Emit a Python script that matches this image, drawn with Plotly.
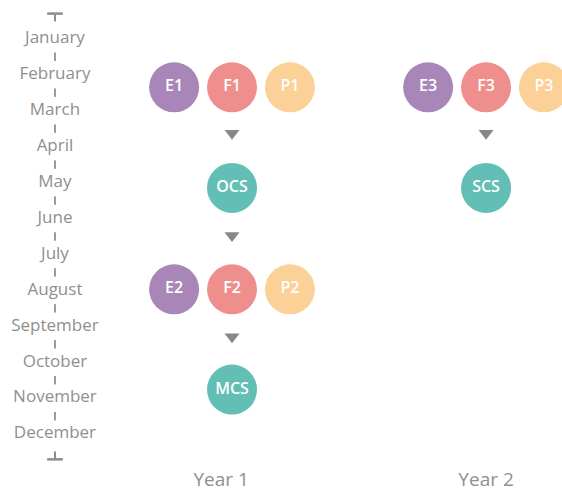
import plotly.graph_objects as go

months = ["January", "February", "March", "April", "May", "June", "July",
          "August", "September", "October", "November", "December"]
years = ["Year 1", "Year 2"]
year_label_pos = [0.957, 2.0]

# assessment nodes: label, year index (1/2), column offset (-1,0,1), month position
node_labels = ["E1", "F1", "P1", "OCS", "E2", "F2", "P2", "MCS", "E3", "F3", "P3", "SCS"]
node_year = [1, 1, 1, 1, 1, 1, 1, 1, 2, 2, 2, 2]
node_col = [-1, 0, 1, 0, -1, 0, 1, 0, -1, 0, 1, 0]
node_month = [2.35, 2.35, 2.35, 5.15, 7.97, 7.97, 7.97, 10.76, 2.35, 2.35, 2.35, 5.15]
node_kind = ["E", "F", "P", "C", "E", "F", "P", "C", "E", "F", "P", "C"]

arrow_year = [1, 1, 1, 2]
arrow_month = [3.63, 6.47, 9.29, 3.63]

kind_colors = {"E": "#A986B8", "F": "#EF8F8D", "P": "#FBD197", "C": "#63BEB5"}
col_step = 0.228
axis_x = 0.303
grey = "#8c8c8c"
label_font = "Open Sans"

fig = go.Figure()

fig.add_trace(go.Scatter(
    x=[axis_x] * len(months), y=list(range(1, 13)), mode="text", text=months,
    textposition="middle center",
    textfont=dict(family=label_font, size=17, color="#8f8f8f"), hoverinfo="skip"))

fig.add_trace(go.Scatter(
    x=[axis_x] * 11, y=[m + 0.5 for m in range(1, 12)], mode="markers",
    marker=dict(symbol="line-ns", size=6, line=dict(width=2, color="#999999")),
    hoverinfo="skip"))

fig.add_trace(go.Scatter(
    x=[axis_x, axis_x], y=[0.30, 0.30], mode="markers",
    marker=dict(symbol="line-ew", size=11, line=dict(width=2, color=grey)), hoverinfo="skip"))
fig.add_trace(go.Scatter(
    x=[axis_x, axis_x], y=[0.30, 0.52], mode="lines",
    line=dict(width=2, color=grey), hoverinfo="skip"))
fig.add_trace(go.Scatter(
    x=[axis_x, axis_x], y=[12.70, 12.70], mode="markers",
    marker=dict(symbol="line-ew", size=11, line=dict(width=2, color=grey)), hoverinfo="skip"))
fig.add_trace(go.Scatter(
    x=[axis_x, axis_x], y=[12.48, 12.70], mode="lines",
    line=dict(width=2, color=grey), hoverinfo="skip"))

fig.add_trace(go.Scatter(
    x=arrow_year, y=arrow_month, mode="markers",
    marker=dict(symbol="triangle-down", size=13, color="#888888"), hoverinfo="skip"))

fig.add_trace(go.Scatter(
    x=[y + c * col_step for y, c in zip(node_year, node_col)], y=node_month,
    mode="markers+text", text=node_labels, textposition="middle center",
    textfont=dict(family=label_font, size=16, color="white", weight=600),
    marker=dict(size=50, color=[kind_colors[k] for k in node_kind], line=dict(width=0)),
    hoverinfo="skip", cliponaxis=False))

fig.update_layout(
    width=562, height=492, showlegend=False,
    margin=dict(l=0, r=0, t=0, b=23),
    paper_bgcolor="white", plot_bgcolor="white",
    xaxis=dict(range=[0.0866, 2.299], showgrid=False, zeroline=False, showline=False,
               tickvals=year_label_pos, ticktext=years, ticks="",
               tickfont=dict(family=label_font, size=19, color="#8f8f8f")),
    yaxis=dict(range=[12.885, -0.078], showgrid=False, zeroline=False, showline=False,
               showticklabels=False),
)

fig.write_html("out.html", config={"displayModeBar": False},
               post_script="document.body.style.margin='0';document.body.style.overflow='hidden';")
